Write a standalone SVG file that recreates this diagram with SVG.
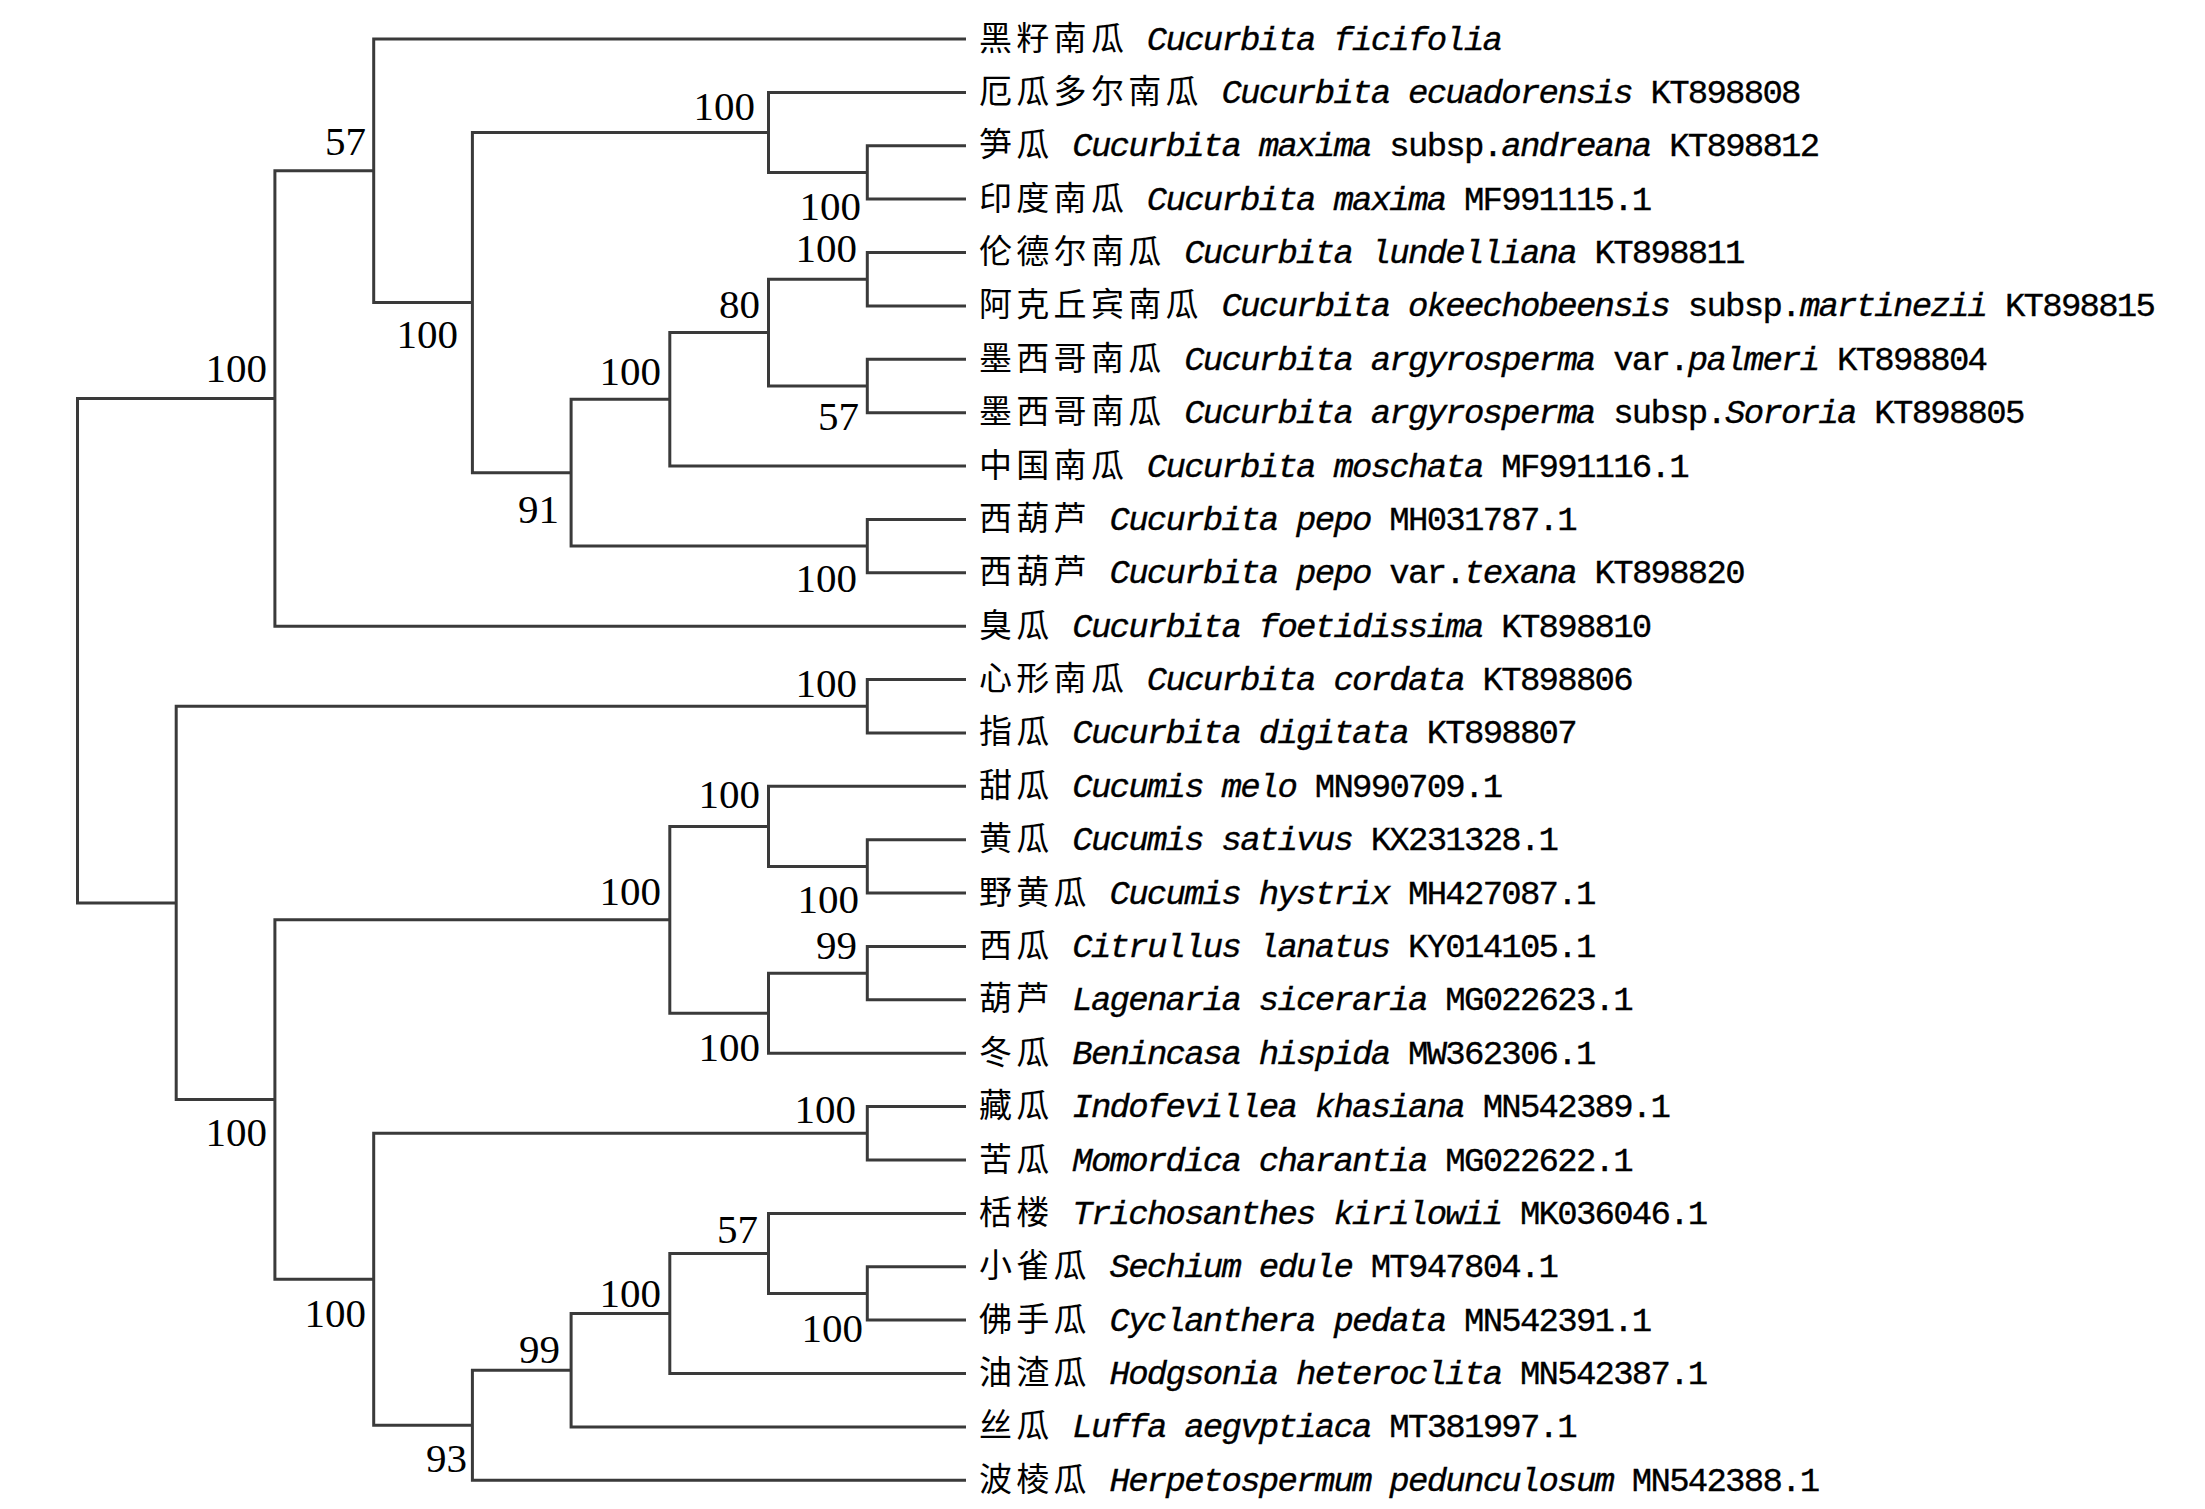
<svg xmlns="http://www.w3.org/2000/svg" width="2205" height="1509" viewBox="0 0 2205 1509">
<style>
.e{fill:none;stroke:#3a3a3a;stroke-width:3;stroke-linejoin:miter;stroke-linecap:butt}
.bs{font-family:"Liberation Serif","Times New Roman",serif;font-size:41px;text-anchor:end;fill:#000}
.lf{font-family:"Liberation Mono","Noto Sans CJK SC",monospace;font-size:34px;letter-spacing:-1.75px;fill:#000;stroke:#000;stroke-width:0.35px}
.cj{font-family:"Noto Sans CJK SC",sans-serif;font-size:33px;letter-spacing:4.3px;stroke:none}
.i{font-style:italic}
</style>
<rect width="2205" height="1509" fill="#fff"/>
<g id="connectors">
<path class="e" d="M274.9,398.5 H77.5 V902.9 H176.2"/>
<path class="e" d="M373.7,170.8 H274.9 V626.2 H966"/>
<path class="e" d="M966,39 H373.7 V302.6 H472.4"/>
<path class="e" d="M768.5,132.4 H472.4 V472.7 H571.1"/>
<path class="e" d="M966,92.4 H768.5 V172.5 H867.3"/>
<path class="e" d="M966,145.8 H867.3 V199.1 H966"/>
<path class="e" d="M669.8,399.3 H571.1 V546.1 H867.3"/>
<path class="e" d="M768.5,332.6 H669.8 V466 H966"/>
<path class="e" d="M867.3,279.2 H768.5 V386 H867.3"/>
<path class="e" d="M966,252.5 H867.3 V305.9 H966"/>
<path class="e" d="M966,359.3 H867.3 V412.7 H966"/>
<path class="e" d="M966,519.4 H867.3 V572.8 H966"/>
<path class="e" d="M867.3,706.3 H176.2 V1099.5 H274.9"/>
<path class="e" d="M966,679.6 H867.3 V732.9 H966"/>
<path class="e" d="M669.8,919.8 H274.9 V1279.3 H373.7"/>
<path class="e" d="M768.5,826.4 H669.8 V1013.2 H768.5"/>
<path class="e" d="M966,786.3 H768.5 V866.4 H867.3"/>
<path class="e" d="M966,839.7 H867.3 V893.1 H966"/>
<path class="e" d="M867.3,973.2 H768.5 V1053.2 H966"/>
<path class="e" d="M966,946.5 H867.3 V999.8 H966"/>
<path class="e" d="M867.3,1133.3 H373.7 V1425.2 H472.4"/>
<path class="e" d="M966,1106.6 H867.3 V1160 H966"/>
<path class="e" d="M571.1,1370.2 H472.4 V1480.3 H966"/>
<path class="e" d="M669.8,1313.5 H571.1 V1426.9 H966"/>
<path class="e" d="M768.5,1253.4 H669.8 V1373.5 H966"/>
<path class="e" d="M966,1213.4 H768.5 V1293.4 H867.3"/>
<path class="e" d="M966,1266.7 H867.3 V1320.1 H966"/>
</g>
<g id="internal-nodes">
<g id="nA"><text class="bs" x="267" y="382">100</text></g>
<g id="nA1"><text class="bs" x="366" y="155">57</text></g>
<g id="nA2"><text class="bs" x="458" y="348">100</text></g>
<g id="nA3"><text class="bs" x="755" y="120">100</text></g>
<g id="nA5"><text class="bs" x="861" y="220">100</text></g>
<g id="nA9"><text class="bs" x="857" y="262">100</text></g>
<g id="nA8"><text class="bs" x="760" y="318">80</text></g>
<g id="nA10"><text class="bs" x="859" y="430">57</text></g>
<g id="nA6"><text class="bs" x="661" y="385">100</text></g>
<g id="nA4"><text class="bs" x="559" y="523">91</text></g>
<g id="nA7"><text class="bs" x="857" y="592">100</text></g>
<g id="nB1"><text class="bs" x="857" y="697">100</text></g>
<g id="nB4"><text class="bs" x="760" y="808">100</text></g>
<g id="nB6"><text class="bs" x="859" y="913">100</text></g>
<g id="nB3"><text class="bs" x="661" y="905">100</text></g>
<g id="nB7"><text class="bs" x="857" y="959">99</text></g>
<g id="nB5"><text class="bs" x="760" y="1061">100</text></g>
<g id="nB2"><text class="bs" x="267" y="1146">100</text></g>
<g id="nB9"><text class="bs" x="856" y="1123">100</text></g>
<g id="nB8"><text class="bs" x="366" y="1327">100</text></g>
<g id="nB13"><text class="bs" x="758" y="1243">57</text></g>
<g id="nB14"><text class="bs" x="863" y="1342">100</text></g>
<g id="nB12"><text class="bs" x="661" y="1307">100</text></g>
<g id="nB11"><text class="bs" x="560" y="1363">99</text></g>
<g id="nB10"><text class="bs" x="467" y="1472">93</text></g>
</g>
<g id="leaves">
<g id="leaf0"><text class="lf" x="979" y="49.5"><tspan class="cj">黑籽南瓜</tspan><tspan class="i"> Cucurbita ficifolia</tspan></text></g>
<g id="leaf1"><text class="lf" x="979" y="102.9"><tspan class="cj">厄瓜多尔南瓜</tspan><tspan class="i"> Cucurbita ecuadorensis</tspan> KT898808</text></g>
<g id="leaf2"><text class="lf" x="979" y="156.3"><tspan class="cj">笋瓜</tspan><tspan class="i"> Cucurbita maxima</tspan> subsp.<tspan class="i">andreana</tspan> KT898812</text></g>
<g id="leaf3"><text class="lf" x="979" y="209.6"><tspan class="cj">印度南瓜</tspan><tspan class="i"> Cucurbita maxima</tspan> MF991115.1</text></g>
<g id="leaf4"><text class="lf" x="979" y="263"><tspan class="cj">伦德尔南瓜</tspan><tspan class="i"> Cucurbita lundelliana</tspan> KT898811</text></g>
<g id="leaf5"><text class="lf" x="979" y="316.4"><tspan class="cj">阿克丘宾南瓜</tspan><tspan class="i"> Cucurbita okeechobeensis</tspan> subsp.<tspan class="i">martinezii</tspan> KT898815</text></g>
<g id="leaf6"><text class="lf" x="979" y="369.8"><tspan class="cj">墨西哥南瓜</tspan><tspan class="i"> Cucurbita argyrosperma</tspan> var.<tspan class="i">palmeri</tspan> KT898804</text></g>
<g id="leaf7"><text class="lf" x="979" y="423.2"><tspan class="cj">墨西哥南瓜</tspan><tspan class="i"> Cucurbita argyrosperma</tspan> subsp.<tspan class="i">Sororia</tspan> KT898805</text></g>
<g id="leaf8"><text class="lf" x="979" y="476.5"><tspan class="cj">中国南瓜</tspan><tspan class="i"> Cucurbita moschata</tspan> MF991116.1</text></g>
<g id="leaf9"><text class="lf" x="979" y="529.9"><tspan class="cj">西葫芦</tspan><tspan class="i"> Cucurbita pepo</tspan> MH031787.1</text></g>
<g id="leaf10"><text class="lf" x="979" y="583.3"><tspan class="cj">西葫芦</tspan><tspan class="i"> Cucurbita pepo</tspan> var.<tspan class="i">texana</tspan> KT898820</text></g>
<g id="leaf11"><text class="lf" x="979" y="636.7"><tspan class="cj">臭瓜</tspan><tspan class="i"> Cucurbita foetidissima</tspan> KT898810</text></g>
<g id="leaf12"><text class="lf" x="979" y="690.1"><tspan class="cj">心形南瓜</tspan><tspan class="i"> Cucurbita cordata</tspan> KT898806</text></g>
<g id="leaf13"><text class="lf" x="979" y="743.4"><tspan class="cj">指瓜</tspan><tspan class="i"> Cucurbita digitata</tspan> KT898807</text></g>
<g id="leaf14"><text class="lf" x="979" y="796.8"><tspan class="cj">甜瓜</tspan><tspan class="i"> Cucumis melo</tspan> MN990709.1</text></g>
<g id="leaf15"><text class="lf" x="979" y="850.2"><tspan class="cj">黄瓜</tspan><tspan class="i"> Cucumis sativus</tspan> KX231328.1</text></g>
<g id="leaf16"><text class="lf" x="979" y="903.6"><tspan class="cj">野黄瓜</tspan><tspan class="i"> Cucumis hystrix</tspan> MH427087.1</text></g>
<g id="leaf17"><text class="lf" x="979" y="957"><tspan class="cj">西瓜</tspan><tspan class="i"> Citrullus lanatus</tspan> KY014105.1</text></g>
<g id="leaf18"><text class="lf" x="979" y="1010.3"><tspan class="cj">葫芦</tspan><tspan class="i"> Lagenaria siceraria</tspan> MG022623.1</text></g>
<g id="leaf19"><text class="lf" x="979" y="1063.7"><tspan class="cj">冬瓜</tspan><tspan class="i"> Benincasa hispida</tspan> MW362306.1</text></g>
<g id="leaf20"><text class="lf" x="979" y="1117.1"><tspan class="cj">藏瓜</tspan><tspan class="i"> Indofevillea khasiana</tspan> MN542389.1</text></g>
<g id="leaf21"><text class="lf" x="979" y="1170.5"><tspan class="cj">苦瓜</tspan><tspan class="i"> Momordica charantia</tspan> MG022622.1</text></g>
<g id="leaf22"><text class="lf" x="979" y="1223.9"><tspan class="cj">栝楼</tspan><tspan class="i"> Trichosanthes kirilowii</tspan> MK036046.1</text></g>
<g id="leaf23"><text class="lf" x="979" y="1277.2"><tspan class="cj">小雀瓜</tspan><tspan class="i"> Sechium edule</tspan> MT947804.1</text></g>
<g id="leaf24"><text class="lf" x="979" y="1330.6"><tspan class="cj">佛手瓜</tspan><tspan class="i"> Cyclanthera pedata</tspan> MN542391.1</text></g>
<g id="leaf25"><text class="lf" x="979" y="1384"><tspan class="cj">油渣瓜</tspan><tspan class="i"> Hodgsonia heteroclita</tspan> MN542387.1</text></g>
<g id="leaf26"><text class="lf" x="979" y="1437.4"><tspan class="cj">丝瓜</tspan><tspan class="i"> Luffa aegvptiaca</tspan> MT381997.1</text></g>
<g id="leaf27"><text class="lf" x="979" y="1490.8"><tspan class="cj">波棱瓜</tspan><tspan class="i"> Herpetospermum pedunculosum</tspan> MN542388.1</text></g>
</g>
</svg>
